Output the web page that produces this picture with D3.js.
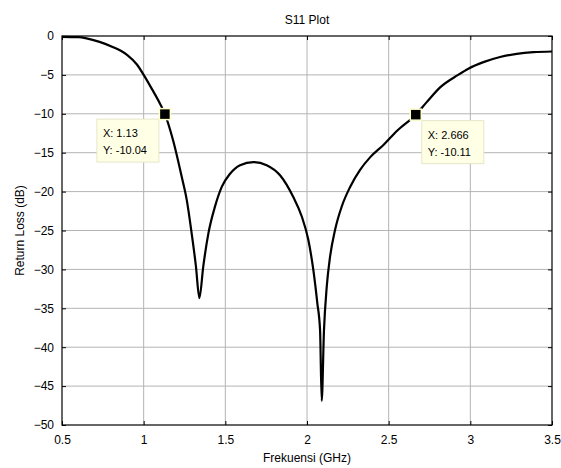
<!DOCTYPE html>
<html>
<head>
<meta charset="utf-8">
<script src="https://cdn.jsdelivr.net/npm/d3@7"></script>
<style>
  body { margin: 0; background: #fff; }
  text { font-family: "Liberation Sans", Arial, sans-serif; }
</style>
</head>
<body>
<div id="container"></div>
<script>
// S11 readings (GHz, dB)
const freq = [0.5, 0.6, 0.65, 0.73, 0.81, 0.86, 0.9, 0.96, 1.0, 1.05, 1.1, 1.13, 1.18, 1.233, 1.264, 1.294, 1.32, 1.341,
    1.365, 1.396, 1.437, 1.478, 1.529, 1.59, 1.672, 1.753, 1.835, 1.916, 1.968, 2.008, 2.039, 2.063, 2.08, 2.09,
    2.104, 2.121, 2.141, 2.172, 2.213, 2.264, 2.325, 2.386, 2.468, 2.55, 2.666, 2.733, 2.815, 2.925, 2.988,
    3.08, 3.182, 3.284, 3.386, 3.5];
const s11 = [-0.1, -0.15, -0.3, -0.75, -1.4, -1.9, -2.45, -3.7, -5.0, -6.8, -8.7, -10.04, -13.4, -18.1, -21.1, -25.4, -29.6, -33.7,
    -29.6, -25.4, -21.9, -19.4, -17.7, -16.6, -16.2, -16.6, -17.9, -20.7, -23.2, -26.2, -30.1, -34.3, -37.8, -46.9,
    -37.8, -32.2, -28.4, -24.9, -21.9, -19.4, -17.2, -15.6, -14.0, -12.2, -10.11, -8.5, -6.6, -5.0, -4.2,
    -3.36, -2.7, -2.3, -2.08, -1.99];

const xTicks = [0.5, 1, 1.5, 2, 2.5, 3, 3.5];
const yTicks = [0, -5, -10, -15, -20, -25, -30, -35, -40, -45, -50];

// data tips
const tipX = [1.13, 2.666];
const tipY = [-10.04, -10.11];
const tipLabelX = ["1.13", "2.666"];
const tipLabelY = ["-10.04", "-10.11"];

const width = 561, height = 468;
const plotL = 62, plotR = 552, plotT = 36, plotB = 425;

const svg = d3.select("#container").append("svg")
    .attr("width", width)
    .attr("height", height);

const x = d3.scaleLinear().domain([0.5, 3.5]).range([plotL, plotR]);
const y = d3.scaleLinear().domain([-50, 0]).range([plotB, plotT]);

// grid
svg.append("g")
    .selectAll("line")
    .data(xTicks.slice(1, -1))
    .join("line")
    .attr("x1", d => x(d)).attr("x2", d => x(d))
    .attr("y1", plotT).attr("y2", plotB)
    .attr("stroke", "#b4b4b4").attr("stroke-width", 1);

svg.append("g")
    .selectAll("line")
    .data(yTicks.slice(1, -1))
    .join("line")
    .attr("x1", plotL).attr("x2", plotR)
    .attr("y1", d => y(d)).attr("y2", d => y(d))
    .attr("stroke", "#b4b4b4").attr("stroke-width", 1);

// axes (ticks inside, box on)
const tickLen = 4;
svg.append("g")
    .attr("transform", `translate(0,${plotB})`)
    .call(d3.axisBottom(x).tickValues(xTicks).tickSizeInner(-tickLen).tickSizeOuter(0).tickPadding(10).tickFormat(d3.format("")))
    .call(g => g.select(".domain").remove());
svg.append("g")
    .attr("transform", `translate(0,${plotT})`)
    .call(d3.axisTop(x).tickValues(xTicks).tickSizeInner(-tickLen).tickSizeOuter(0).tickFormat(""))
    .call(g => g.select(".domain").remove());
svg.append("g")
    .attr("transform", `translate(${plotL},0)`)
    .call(d3.axisLeft(y).tickValues(yTicks).tickSizeInner(-tickLen).tickSizeOuter(0).tickPadding(8).tickFormat(d3.format("")))
    .call(g => g.select(".domain").remove());
svg.append("g")
    .attr("transform", `translate(${plotR},0)`)
    .call(d3.axisRight(y).tickValues(yTicks).tickSizeInner(-tickLen).tickSizeOuter(0).tickFormat(""))
    .call(g => g.select(".domain").remove());

svg.selectAll(".tick text")
    .attr("font-size", 12)
    .attr("fill", "#000")
    .attr("font-family", "Liberation Sans, Arial, sans-serif");
svg.selectAll(".tick line").attr("stroke", "#000");

svg.append("rect")
    .attr("x", plotL).attr("y", plotT)
    .attr("width", plotR - plotL).attr("height", plotB - plotT)
    .attr("fill", "none").attr("stroke", "#000").attr("stroke-width", 1.2);

// curve
const points = freq.map((f, i) => [f, s11[i]]);
svg.append("path")
    .datum(points)
    .attr("fill", "none")
    .attr("stroke", "#000")
    .attr("stroke-width", 2.2)
    .attr("d", d3.line().x(d => x(d[0])).y(d => y(d[1])).curve(d3.curveMonotoneX));

// data tips
const tipOffsets = [[-68, 5], [6, 6]];
tipX.forEach((tx, i) => {
    let px = x(tx), py = y(tipY[i]);
    let bx = px + tipOffsets[i][0], by = py + tipOffsets[i][1];
    svg.append("rect")
        .attr("x", bx).attr("y", by)
        .attr("width", 62).attr("height", 43)
        .attr("fill", "#ffffe6").attr("stroke", "#e6e6c8").attr("stroke-width", 1);
    svg.append("text")
        .attr("x", bx + 6).attr("y", by + 18)
        .attr("font-size", 11)
        .text("X: " + tipLabelX[i]);
    svg.append("text")
        .attr("x", bx + 6).attr("y", by + 35)
        .attr("font-size", 11)
        .text("Y: " + tipLabelY[i]);
    svg.append("rect")
        .attr("x", px - 5.5).attr("y", py - 5.5)
        .attr("width", 11).attr("height", 11)
        .attr("fill", "#000").attr("stroke", "#ffffc8").attr("stroke-width", 1.5);
});

// labels
svg.append("text")
    .attr("x", (plotL + plotR) / 2).attr("y", 24)
    .attr("text-anchor", "middle").attr("font-size", 12)
    .text("S11 Plot");
svg.append("text")
    .attr("x", (plotL + plotR) / 2).attr("y", 462)
    .attr("text-anchor", "middle").attr("font-size", 12)
    .text("Frekuensi (GHz)");
svg.append("text")
    .attr("transform", `translate(24,${(plotT + plotB) / 2}) rotate(-90)`)
    .attr("text-anchor", "middle").attr("font-size", 12)
    .text("Return Loss (dB)");
</script>
</body>
</html>
